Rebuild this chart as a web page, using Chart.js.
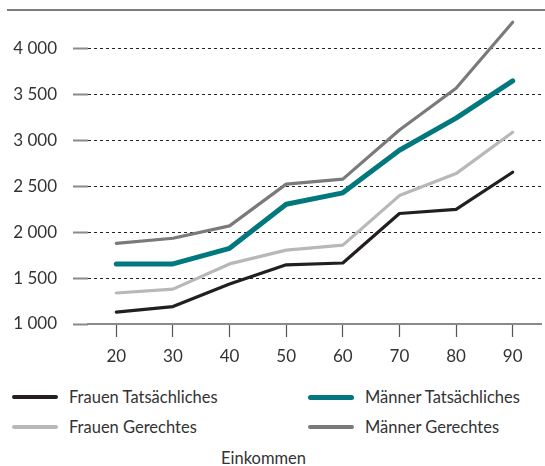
<!DOCTYPE html>
<html>
<head>
<meta charset="utf-8">
<script src="https://cdn.jsdelivr.net/npm/chart.js@4"></script>
<style>
  body { margin: 0; background: #fff; font-family: Lato, "Open Sans", sans-serif; color: #333; }
  #wrap { position: relative; width: 545px; height: 466px; }
  #topRule { position: absolute; top: 9px; left: 7px; right: 0; border-top: 2px solid #7d7d7d; }
  #chartBox { position: absolute; top: 0; left: 0; width: 545px; height: 375px; }
  .leg { position: absolute; font-size: 16.5px; line-height: 20px; white-space: nowrap; }
  .leg span.swatch { position: absolute; left: 0; width: 46px; border-radius: 3px; }
  .leg span.txt { position: absolute; left: 57px; top: 0; }
  #xTitle { position: absolute; top: 448px; left: 221px; font-size: 16.5px; line-height: 20px; }
</style>
</head>
<body>
<div id="wrap">
  <div id="chartBox"><canvas id="lineChart"></canvas></div>
  <div id="topRule"></div>
  <div id="legend"></div>
  <div id="xTitle">Einkommen</div>
</div>
<script>
var ages = ["20", "30", "40", "50", "60", "70", "80", "90"];
var frauenTats = [1130, 1190, 1435, 1645, 1665, 2205, 2250, 2655];
var maennerTats = [1655, 1655, 1825, 2305, 2430, 2895, 3245, 3650];
var frauenGer = [1338, 1380, 1655, 1805, 1860, 2400, 2640, 3090];
var maennerGer = [1880, 1935, 2070, 2525, 2580, 3115, 3570, 4290];

var seriesNames = ["Frauen Tatsächliches", "Männer Tatsächliches", "Frauen Gerechtes", "Männer Gerechtes"];
var seriesColors = ["#231f20", "#00787e", "#b8b8b8", "#7a7a7a"];
var seriesWidths = [3.2, 5, 3.2, 3.2];
var seriesData = [frauenTats, maennerTats, frauenGer, maennerGer];

function fmt(v) {
  return String(Math.round(v)).replace(/\B(?=(\d{3})+(?!\d))/g, " ");
}

var datasets = seriesNames.map(function(name, i) {
  return {
    label: name,
    data: seriesData[i],
    borderColor: seriesColors[i],
    backgroundColor: seriesColors[i],
    borderWidth: seriesWidths[i],
    pointRadius: 0,
    tension: 0,
    borderCapStyle: "round",
    borderJoinStyle: "round"
  };
});

var lineChart = new Chart(document.getElementById("lineChart"), {
  type: "line",
  data: { labels: ages, datasets: datasets },
  options: {
    responsive: true,
    maintainAspectRatio: false,
    animation: false,
    layout: { padding: { top: 3, right: 4, left: 0, bottom: 0 } },
    plugins: { legend: { display: false }, tooltip: { enabled: false } },
    scales: {
      x: {
        offset: true,
        grid: { drawOnChartArea: false, tickLength: 13, tickColor: "#555", tickWidth: 1.2, offset: false },
        border: { display: true, color: "#8a8a8a", width: 2 },
        ticks: { color: "#333", padding: 9, font: { family: "Lato", size: 17 } },
        afterFit: function(scale) { scale.height = 51; }
      },
      y: {
        min: 1000,
        max: 4500,
        afterBuildTicks: function(scale) {
          scale.ticks = scale.ticks.filter(function(t) { return t.value <= 4000; });
        },
        grid: { color: "#222", lineWidth: 1, tickLength: 15, tickColor: "#8a8a8a", tickWidth: 2 },
        border: { display: false, dash: [3, 3] },
        ticks: {
          stepSize: 500,
          color: "#333",
          padding: 16,
          font: { family: "Lato", size: 17 },
          callback: function(v) { return fmt(v); }
        },
        afterFit: function(scale) {
          scale.width = 88;
          scale.paddingTop = 0;
          scale.paddingBottom = 0;
        }
      }
    }
  }
});

// HTML legend in two columns
var legendPos = [
  { left: 12, top: 387 },
  { left: 308, top: 387 },
  { left: 12, top: 417 },
  { left: 308, top: 417 }
];
var legendEl = document.getElementById("legend");
seriesNames.forEach(function(name, i) {
  var item = document.createElement("div");
  item.className = "leg";
  item.style.left = legendPos[i].left + "px";
  item.style.top = legendPos[i].top + "px";
  var sw = document.createElement("span");
  sw.className = "swatch";
  sw.style.background = seriesColors[i];
  sw.style.height = seriesWidths[i] + "px";
  sw.style.top = (10 - seriesWidths[i] / 2) + "px";
  var tx = document.createElement("span");
  tx.className = "txt";
  tx.textContent = name;
  item.appendChild(sw);
  item.appendChild(tx);
  legendEl.appendChild(item);
});
</script>
</body>
</html>
